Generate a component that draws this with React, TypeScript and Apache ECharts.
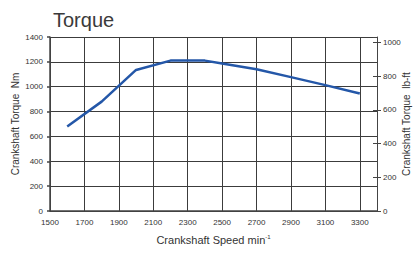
import React, { useEffect, useRef } from "react";
import * as echarts from "echarts";

const rpm = [1600, 1800, 2000, 2200, 2400, 2500, 2700, 2900, 3100, 3300];
const torqueNm = [680, 880, 1135, 1210, 1210, 1186, 1140, 1077, 1013, 945];
const xTicks = { min: 1500, max: 3400, interval: 200 };
const nmTicks = { min: 0, max: 1400, interval: 200 };
const NM_PER_LBFT = 1.35582;

const FONT = "Liberation Sans, Arial, sans-serif";
const TXT = "#333";
const AX = "#444";
const GRID = "#3c3c3c";
const plain = (v: number) => String(v);

export default function App() {
  const ref = useRef<HTMLDivElement>(null);
  useEffect(() => {
    if (!ref.current) return;
    const chart = echarts.init(ref.current, null, { renderer: "svg" });
    const lbMax = nmTicks.max / NM_PER_LBFT;
    chart.setOption({
      animation: false,
      backgroundColor: "#fff",
      textStyle: { fontFamily: FONT },
      title: {
        text: "Torque",
        left: 48,
        top: 5,
        textStyle: { fontFamily: FONT, fontSize: 20, fontWeight: "normal", color: "#3a3a3a" },
      },
      grid: { left: 50, right: 36, top: 37, bottom: 42, containLabel: false, outerBoundsMode: "none" },
      xAxis: {
        type: "value",
        min: xTicks.min,
        max: xTicks.max,
        interval: xTicks.interval,
        name: "Crankshaft Speed min{s|-1}",
        nameLocation: "middle",
        nameGap: 23,
        nameMoveOverlap: false,
        nameTextStyle: {
          fontFamily: FONT,
          fontSize: 11,
          color: TXT,
          rich: { s: { fontSize: 6, verticalAlign: "top", color: TXT, fontFamily: FONT } },
        },
        axisLine: { show: true, lineStyle: { color: AX, width: 1.5 } },
        axisTick: { show: false },
        axisLabel: {
          fontSize: 8,
          color: TXT,
          margin: 7,
          showMaxLabel: false,
          fontFamily: FONT,
          formatter: plain,
        },
        splitLine: { show: true, lineStyle: { color: GRID, width: 1 } },
      },
      yAxis: [
        {
          type: "value",
          position: "left",
          min: nmTicks.min,
          max: nmTicks.max,
          interval: nmTicks.interval,
          name: "Crankshaft Torque  Nm",
          nameLocation: "middle",
          nameGap: 30,
          nameMoveOverlap: false,
          nameRotate: 90,
          nameTextStyle: { fontFamily: FONT, fontSize: 10, color: TXT },
          axisLine: { show: true, lineStyle: { color: AX, width: 1.5 } },
          axisTick: { show: true, length: 3, lineStyle: { color: AX, width: 1.5 } },
          axisLabel: { fontSize: 8, color: TXT, margin: 7, fontFamily: FONT, formatter: plain },
          splitLine: { show: true, lineStyle: { color: GRID, width: 1 } },
        },
        {
          type: "value",
          position: "right",
          min: 0,
          max: lbMax,
          interval: 200,
          alignTicks: false,
          name: "Crankshaft Torque  lb-ft",
          nameLocation: "middle",
          nameGap: 24,
          nameMoveOverlap: false,
          nameRotate: 90,
          nameTextStyle: { fontFamily: FONT, fontSize: 10, color: TXT },
          axisLine: { show: true, lineStyle: { color: AX, width: 1 } },
          axisTick: { show: true, length: 4, lineStyle: { color: AX, width: 1 } },
          axisLabel: { fontSize: 8, color: TXT, margin: 6, showMaxLabel: false, fontFamily: FONT, formatter: plain },
          splitLine: { show: false },
        },
        {
          type: "value",
          position: "right",
          min: 0,
          max: lbMax,
          interval: 200,
          alignTicks: false,
          axisLine: { show: false },
          axisTick: { show: true, inside: true, length: 4, lineStyle: { color: AX, width: 1 } },
          axisLabel: { show: false },
          splitLine: { show: false },
        },
      ],
      series: [
        {
          type: "line",
          data: rpm.map((r, i) => [r, torqueNm[i]]),
          showSymbol: false,
          symbol: "none",
          lineStyle: { color: "#2457a8", width: 2.5 },
          yAxisIndex: 0,
        },
      ],
    });
    return () => chart.dispose();
  }, []);
  return (
    <div
      ref={ref}
      style={{ position: "absolute", left: 0, top: 0, width: 413, height: 253 }}
    />
  );
}
